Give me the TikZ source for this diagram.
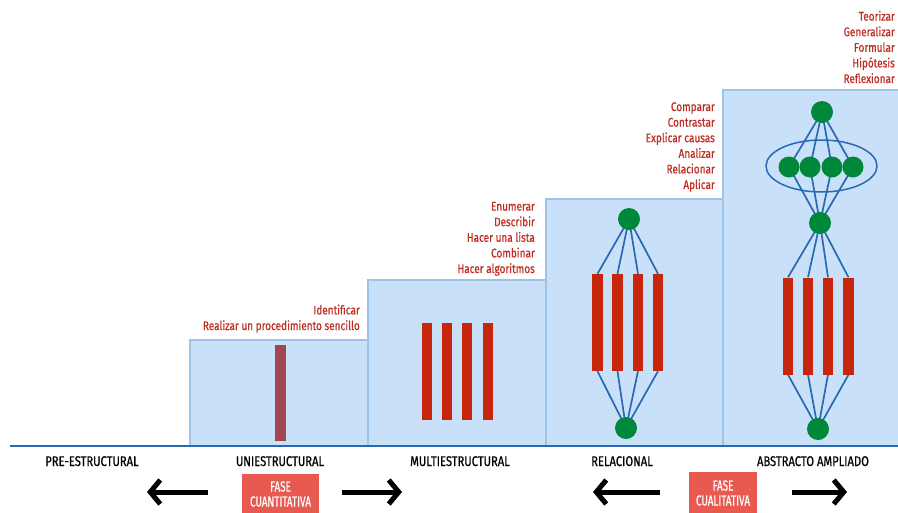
\documentclass[tikz,border=0pt]{standalone}
\usepackage{fontspec}
\setmainfont{Fira Sans}[FakeStretch=0.8]
\newfontfamily\labfont{Fira Sans}[FakeStretch=0.8,FakeBold=0.6]
\newfontfamily\fasefont{Fira Sans}[FakeStretch=0.68,FakeBold=0.6]
\usetikzlibrary{shapes.geometric,arrows.meta}
\definecolor{boxfill}{HTML}{C8E1F8}
\definecolor{boxline}{HTML}{9DC3E6}
\definecolor{lineblue}{HTML}{2A68B4}
\definecolor{dotgreen}{HTML}{00883A}
\definecolor{barred}{HTML}{C8260C}
\definecolor{unibar}{HTML}{A2474F}
\definecolor{txtred}{HTML}{BE2D24}
\definecolor{fasefill}{HTML}{E85A50}
\pgfdeclarelayer{boxes}
\pgfdeclarelayer{bg}
\pgfsetlayers{boxes,bg,main}
\tikzset{
  levelbox/.style={fill=boxfill,draw=boxline,line width=1.5pt},
  bar/.style={rectangle,fill=barred,minimum width=10.5pt,minimum height=97pt,inner sep=0pt},
  dot/.style={circle,fill=dotgreen,minimum size=22pt,inner sep=0pt},
  smalldot/.style={circle,fill=dotgreen,minimum size=21pt,inner sep=0pt},
  link/.style={draw=lineblue,line width=1.7pt},
  verbs/.style={align=right,anchor=base east,inner sep=0pt,text=txtred,font=\labfont\fontsize{12.5}{15.6}\selectfont},
  levelname/.style={anchor=base,inner sep=0pt,font=\labfont\fontsize{14}{16}\selectfont},
  fase/.style={fill=fasefill,text=white,align=center,inner sep=0pt,font=\fasefont\fontsize{14.5}{15}\selectfont},
  bigarrow/.style={line width=5pt,-{Straight Barb[length=10pt,width=24pt,line width=5pt]}}
}
\begin{document}
\begin{tikzpicture}[x=1pt,y=-1pt]
\useasboundingbox (0,0) rectangle (898,512);
% level boxes
\begin{pgfonlayer}{boxes}
\path[levelbox] (190,340) rectangle (368,446);
\path[levelbox] (368,280) rectangle (546,446);
\path[levelbox] (546,199) rectangle (723,446);
\path[levelbox] (723,90) rectangle (899,446);
\end{pgfonlayer}
\coordinate (axL) at (10,446);
\coordinate (axR) at (898,446);
\draw[lineblue,line width=2pt] (axL) -- (axR);
% uniestructural
\node[bar,fill=unibar,minimum height=96pt] (u1) at (280.5,393) {};
% multiestructural
\node[bar] (m1) at (427,371.5) {};
\node[bar] (m2) at (447,371.5) {};
\node[bar] (m3) at (467,371.5) {};
\node[bar] (m4) at (488,371.5) {};
% relacional
\node[bar] (r1) at (597.5,322.5) {};
\node[bar] (r2) at (617.5,322.5) {};
\node[bar] (r3) at (638,322.5) {};
\node[bar] (r4) at (658,322.5) {};
\node[dot] (rt) at (629,219) {};
\node[dot] (rb) at (626,428) {};
\begin{pgfonlayer}{bg}
\foreach \b in {r1,r2,r3,r4}{
  \draw[link] (rt.center) -- (\b.north);
  \draw[link] (\b.south) -- (rb.center);
}
\end{pgfonlayer}
% abstracto ampliado
\node[bar] (a1) at (788,326) {};
\node[bar] (a2) at (808,326) {};
\node[bar] (a3) at (828,326) {};
\node[bar] (a4) at (848.5,326) {};
\node[dot] (at) at (822,112) {};
\node[smalldot] (s1) at (789,167) {};
\node[smalldot] (s2) at (810,167) {};
\node[smalldot] (s3) at (832,167) {};
\node[smalldot] (s4) at (853,167) {};
\node[dot] (am) at (820,223) {};
\node[dot] (ab) at (818,429) {};
\node[ellipse,draw=lineblue,line width=1.5pt,minimum width=111pt,minimum height=52pt,inner sep=0pt] (ell) at (821.5,166) {};
\begin{pgfonlayer}{bg}
\foreach \s in {s1,s2,s3,s4}{
  \draw[link] (at.center) -- (\s.center);
  \draw[link] (\s.center) -- (am.center);
}
\foreach \b in {a1,a2,a3,a4}{
  \draw[link] (am.center) -- (\b.north);
  \draw[link] (\b.south) -- (ab.center);
}
\end{pgfonlayer}
% verb lists (anchor = baseline of last line)
\node[verbs] (vu) at (360,330) {Identificar\\Realizar un procedimiento sencillo};
\node[verbs] (vm) at (535,273) {Enumerar\\Describir\\Hacer una lista\\Combinar\\Hacer algoritmos};
\node[verbs] (vr) at (715,189) {Comparar\\Contrastar\\Explicar causas\\Analizar\\Relacionar\\Aplicar};
\node[verbs] (va) at (895,83) {Teorizar\\Generalizar\\Formular\\Hipótesis\\Reflexionar};
% level names
\node[levelname] (n1) at (92,466) {PRE-ESTRUCTURAL};
\node[levelname] (n2) at (280,466) {UNIESTRUCTURAL};
\node[levelname] (n3) at (460,466) {MULTIESTRUCTURAL};
\node[levelname] (n4) at (622,466) {RELACIONAL};
\node[levelname] (n5) at (813,466) {ABSTRACTO AMPLIADO};
% phases
\node[fase,minimum width=77pt,minimum height=40pt] (f1) at (280.5,494) {FASE\\CUANTITATIVA};
\node[fase,minimum width=68pt,minimum height=42pt] (f2) at (723,493) {FASE\\CUALITATIVA};
\coordinate (a1s) at (208,492);
\coordinate (a1e) at (147,492);
\coordinate (a2s) at (342,492);
\coordinate (a2e) at (402,492);
\coordinate (a3s) at (660,492);
\coordinate (a3e) at (593,492);
\coordinate (a4s) at (792,492);
\coordinate (a4e) at (847,492);
\draw[bigarrow] (a1s) -- (a1e);
\draw[bigarrow] (a2s) -- (a2e);
\draw[bigarrow] (a3s) -- (a3e);
\draw[bigarrow] (a4s) -- (a4e);
\end{tikzpicture}
\end{document}
